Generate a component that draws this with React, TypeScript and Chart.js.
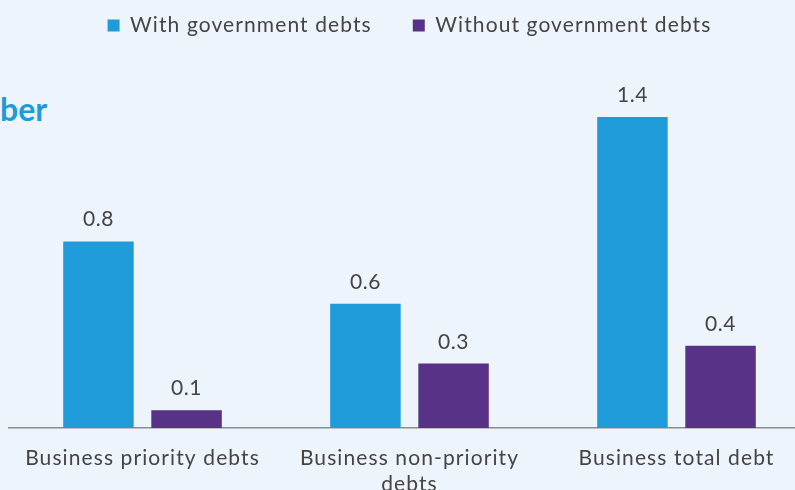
import React, { useEffect, useRef } from "react";
import { Chart, registerables } from "chart.js";

Chart.register(...registerables);

const categories: (string | string[])[] = [
  "Business priority debts",
  ["Business non-priority", "debts"],
  "Business total debt",
];
const seriesNames = ["With government debts", "Without government debts"];
const withGovernment = [0.84, 0.56, 1.4];
const withoutGovernment = [0.08, 0.29, 0.37];
const colors = ["#1F9BD9", "#573286"];
const titleFragment = "ber";

const FONT = "Lato, 'Open Sans', sans-serif";
const SPACING = "1.1px";

const spacingPlugin = {
  id: "spacing",
  beforeUpdate(chart: any) {
    (chart.ctx as any).letterSpacing = SPACING;
  },
  beforeDraw(chart: any) {
    (chart.ctx as any).letterSpacing = SPACING;
  },
};

const valueLabels = {
  id: "valueLabels",
  afterDatasetsDraw(chart: any) {
    const ctx = chart.ctx;
    ctx.save();
    ctx.letterSpacing = "0.6px";
    ctx.font = `21px ${FONT}`;
    ctx.fillStyle = "#444444";
    ctx.textAlign = "center";
    ctx.textBaseline = "alphabetic";
    chart.data.datasets.forEach((ds: any, i: number) => {
      chart.getDatasetMeta(i).data.forEach((bar: any, j: number) => {
        ctx.fillText(Number(ds.data[j]).toFixed(1), bar.x, bar.y - 15);
      });
    });
    ctx.restore();
  },
};

export default function App() {
  const ref = useRef<HTMLCanvasElement | null>(null);

  useEffect(() => {
    if (!ref.current) return;
    const chart = new Chart(ref.current, {
      type: "bar",
      data: {
        labels: categories as any,
        datasets: [
          {
            label: seriesNames[0],
            data: withGovernment,
            backgroundColor: colors[0],
            categoryPercentage: 0.66,
            barPercentage: 0.8,
          },
          {
            label: seriesNames[1],
            data: withoutGovernment,
            backgroundColor: colors[1],
            categoryPercentage: 0.66,
            barPercentage: 0.8,
          },
        ],
      },
      options: {
        animation: false,
        responsive: false,
        maintainAspectRatio: false,
        layout: { padding: { left: 9, right: 0, top: -26, bottom: 0 } },
        plugins: {
          legend: {
            position: "top",
            labels: {
              boxWidth: 12,
              boxHeight: 12,
              padding: 41,
              color: "#444444",
              font: { family: FONT, size: 21 },
            },
          },
          tooltip: { enabled: false },
        },
        scales: {
          x: {
            grid: { display: false },
            border: { display: true, color: "#8c8c8c", width: 1.5 },
            ticks: {
              color: "#444444",
              font: { family: FONT, size: 21, lineHeight: 1.2 },
              padding: 10,
              maxRotation: 0,
              autoSkip: false,
            },
            afterFit: (s: any) => {
              s.height = 72;
            },
          },
          y: {
            display: false,
            min: 0,
            max: 1.72,
          },
        },
      },
      plugins: [spacingPlugin, valueLabels],
    });
    return () => chart.destroy();
  }, []);

  return (
    <div
      style={{
        position: "fixed",
        left: 0,
        top: 0,
        width: 795,
        height: 490,
        overflow: "hidden",
        background: "#EEF4FC",
      }}
    >
      <div
        style={{
          position: "absolute",
          left: 0,
          top: 93,
          fontFamily: "Lato, sans-serif",
          fontWeight: 700,
          fontSize: 32,
          lineHeight: "32px",
          color: "#1F9BD9",
        }}
      >
        {titleFragment}
      </div>
      <canvas
        ref={ref}
        width={810}
        height={500}
        style={{ position: "absolute", left: 0, top: 0, width: 810, height: 500 }}
      />
    </div>
  );
}
